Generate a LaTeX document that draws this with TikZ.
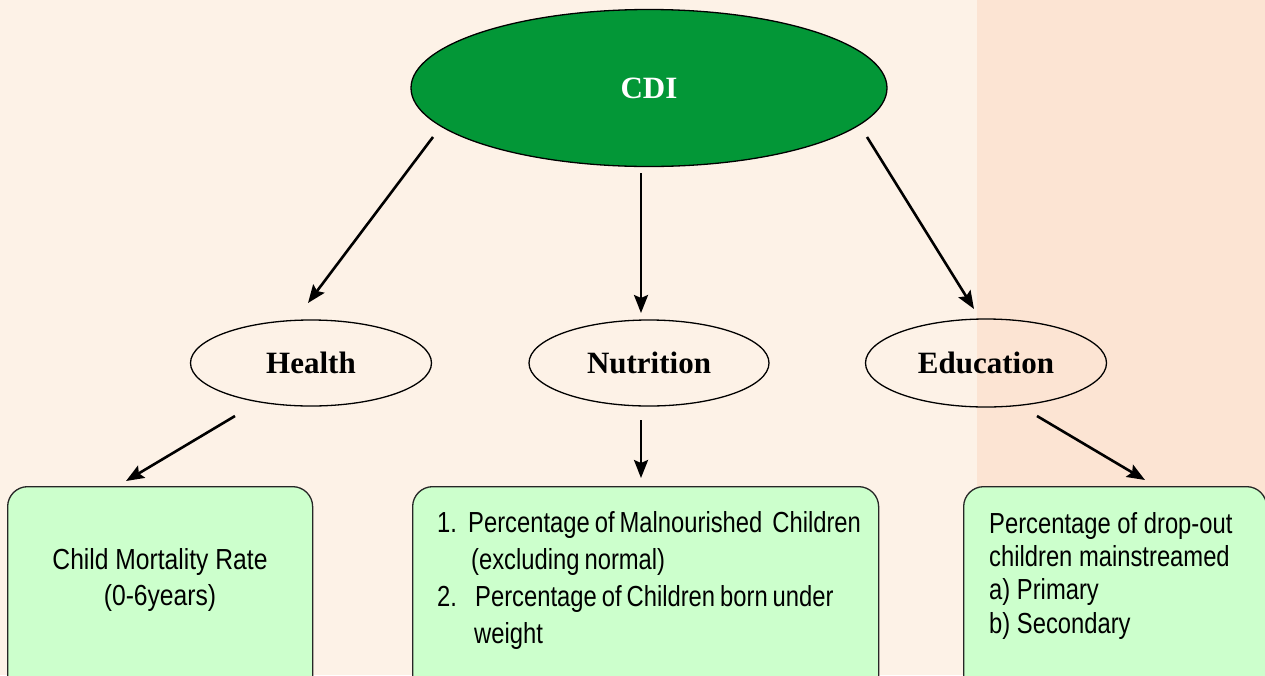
\documentclass[tikz,border=0pt]{standalone}
\usepackage{fontspec}
\setmainfont{Liberation Serif}
\newfontfamily\boxfont[FakeStretch=0.85]{Liberation Sans}
\newfontfamily\boxfontnarrow[FakeStretch=0.82]{Liberation Sans}
\newcommand\tightspaces{\spaceskip=5pt plus 1pt\relax}
\usetikzlibrary{shapes.geometric,arrows.meta}
\definecolor{bgmain}{HTML}{FDF2E7}
\definecolor{bgstrip}{HTML}{FCE4D3}
\definecolor{cdigreen}{HTML}{039737}
\definecolor{boxgreen}{HTML}{CCFFCC}
\begin{document}
\begin{tikzpicture}[x=1pt,y=-1pt,
  oval/.style={ellipse, draw=black, line width=1.3pt, inner sep=0pt,
    font=\fontsize{31}{36}\selectfont\bfseries},
  panel/.style={draw=black!85, line width=1.3pt, fill=boxgreen,
    rounded corners=20pt, anchor=north west, inner sep=0pt},
  boxtext/.style={font=\boxfont\fontsize{29}{36}\selectfont, inner sep=0pt},
  arr/.style={line width=2.6pt, -{Stealth[length=18pt,width=14pt,inset=3pt]}}]

% background with the darker strip on the right
\fill[bgmain] (0,0) rectangle (1265,675);
\fill[bgstrip] (977,0) rectangle (1265,675);
\useasboundingbox (0,0) rectangle (1265,675);
\clip (0,0) rectangle (1265,675);

% top-level index
\node[oval, fill=cdigreen, text=white, minimum width=476pt, minimum height=157pt] (cdi) at (649,88) {CDI};

% the three components
\node[oval, minimum width=241pt, minimum height=86pt] (health) at (311,363) {Health};
\node[oval, minimum width=240pt, minimum height=86pt] (nutrition) at (649,363) {Nutrition};
\node[oval, minimum width=241pt, minimum height=88pt] (education) at (986,363) {Education};

% indicator panels (running off the bottom edge)
\node[panel, minimum width=305pt, minimum height=230pt] (hbox) at (7,486) {};
\node[panel, minimum width=466pt, minimum height=230pt] (nbox) at (412,486) {};
\node[panel, minimum width=303pt, minimum height=230pt] (ebox) at (963,486) {};

% panel texts, placed by the baseline of their last line
\node[boxtext, align=center, anchor=base] (htext) at (160,605)
  {Child Mortality Rate\\(0-6years)};
\node[boxtext, font=\boxfontnarrow\fontsize{29}{36.7}\selectfont\tightspaces,
  align=left, anchor=base west] (ntext) at (437,643)
  {\makebox[31pt][l]{1.}Percentage of Malnourished\ \ Children\\
   \hspace*{34pt}(excluding normal)\\
   \makebox[38pt][l]{2.}Percentage of Children born under\\
   \hspace*{37pt}weight};
\node[boxtext, font=\boxfontnarrow\fontsize{29}{33.3}\selectfont, align=left, anchor=base west] (etext) at (989,633)
  {Percentage of drop-out\\children mainstreamed\\a) Primary\\b) Secondary};

% connectors
\draw[arr] ([shift={(-216,49)}]cdi.center) -- ([shift={(-3,-60)}]health.center);
\draw[arr] ([shift={(-8,85)}]cdi.center) -- ([shift={(-8,-50)}]nutrition.center);
\draw[arr] ([shift={(218,49)}]cdi.center) -- ([shift={(-12,-54)}]education.center);
\draw[arr] ([shift={(-76,53)}]health.center) -- ([shift={(119,-5)}]hbox.north west);
\draw[arr] ([shift={(-8,57)}]nutrition.center) -- ([shift={(229,-8)}]nbox.north west);
\draw[arr] ([shift={(51,53)}]education.center) -- ([shift={(182,-6)}]ebox.north west);
\end{tikzpicture}
\end{document}
